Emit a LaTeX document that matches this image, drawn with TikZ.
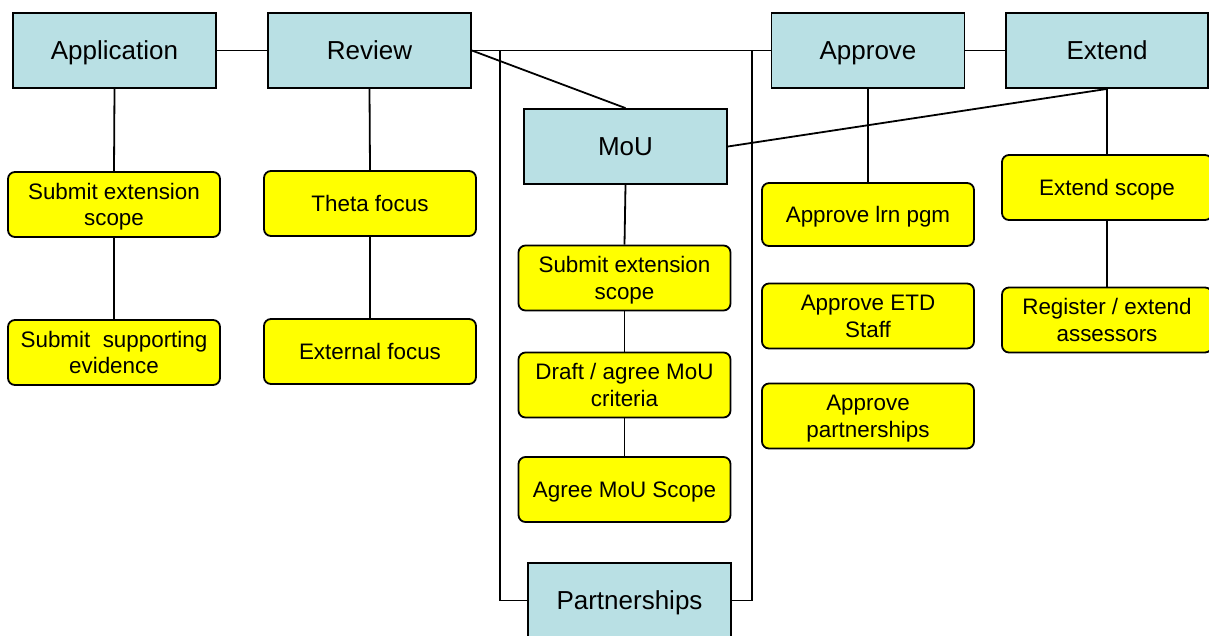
\documentclass[tikz,border=0pt]{standalone}
\usepackage{fontspec}
\setmainfont{Liberation Sans}
\definecolor{boxblue}{RGB}{185,224,228}
\definecolor{boxyellow}{RGB}{255,255,0}
\newcommand{\ys}{\rule[-0.234em]{0pt}{1.184em}}
\begin{document}
\begin{tikzpicture}[x=1pt,y=-1pt,
  blue/.style={draw, line width=1.8pt, fill=boxblue, minimum height=75pt, inner sep=0pt, font=\fontsize{26}{31}\selectfont, execute at begin node=\ys, execute at end node=\ys},
  yel/.style={draw, line width=1.8pt, rounded corners=7pt, fill=boxyellow, minimum width=212pt, minimum height=65pt, inner sep=0pt, align=center, font=\fontsize{22.4}{26.6}\selectfont},
  conn/.style={line width=1.8pt}]
\useasboundingbox (0,0) rectangle (1209,635);
\coordinate (bl) at (500,50.5);
\coordinate (br) at (752,50.5);
% blue boxes
\node[blue, minimum width=203pt] (app) at (114.5,50.5) {Application};
\node[blue, minimum width=203pt] (rev) at (369.5,50.5) {Review};
\node[blue, minimum width=193pt] (appr) at (868,50.5) {Approve};
\node[blue, minimum width=202pt] (ext) at (1107,50.5) {Extend};
\node[blue, minimum width=203pt] (mou) at (625.5,146.5) {MoU};
\node[blue, minimum width=203pt] (part) at (629.5,600.5) {Partnerships};
% yellow boxes
\node[yel] (y1) at (114,204.5) {\ys Submit extension\\\ys scope};
\node[yel] (y2) at (114,352.5) {\ys Submit\ \ supporting\\\ys evidence};
\node[yel] (t1) at (370,203.5) {\ys Theta focus};
\node[yel] (t2) at (370,351.5) {\ys External focus};
\node[yel] (m1) at (624.5,278) {\ys Submit extension\\\ys scope};
\node[yel] (m2) at (624.5,385) {\ys Draft / agree MoU\\\ys criteria};
\node[yel] (m3) at (624.5,489.5) {\ys Agree MoU Scope};
\node[yel, minimum height=63pt] (a1) at (868,214.5) {\ys Approve lrn pgm};
\node[yel] (a2) at (868,316) {\ys Approve ETD\\\ys Staff};
\node[yel] (a3) at (868,416) {\ys Approve\\\ys partnerships};
\node[yel, minimum width=210pt] (e1) at (1107,187.5) {\ys Extend scope};
\node[yel, minimum width=210pt] (e2) at (1107,320) {\ys Register / extend\\\ys assessors};
% connectors
\draw[conn] (app.east) -- (rev.west);
\draw[conn] (rev.east) -- (appr.west);
\draw[conn] (appr.east) -- (ext.west);
\draw[conn] (rev.east) -- (mou.north);
\draw[conn] (mou.east) -- (ext.south);
\draw[conn] (app.south) -- (y1.north);
\draw[conn] (y1.south) -- (y2.north);
\draw[conn] (rev.south) -- (t1.north);
\draw[conn] (t1.south) -- (t2.north);
\draw[conn] (mou.south) -- (m1.north);
\draw[conn] (m1.south) -- (m2.north);
\draw[conn] (m2.south) -- (m3.north);
\draw[conn] (appr.south) -- (a1.north);
\draw[conn] (ext.south) -- (e1.north);
\draw[conn] (e1.south) -- (e2.north);
\draw[conn] (bl) |- (part.west);
\draw[conn] (br) |- (part.east);
\end{tikzpicture}
\end{document}
